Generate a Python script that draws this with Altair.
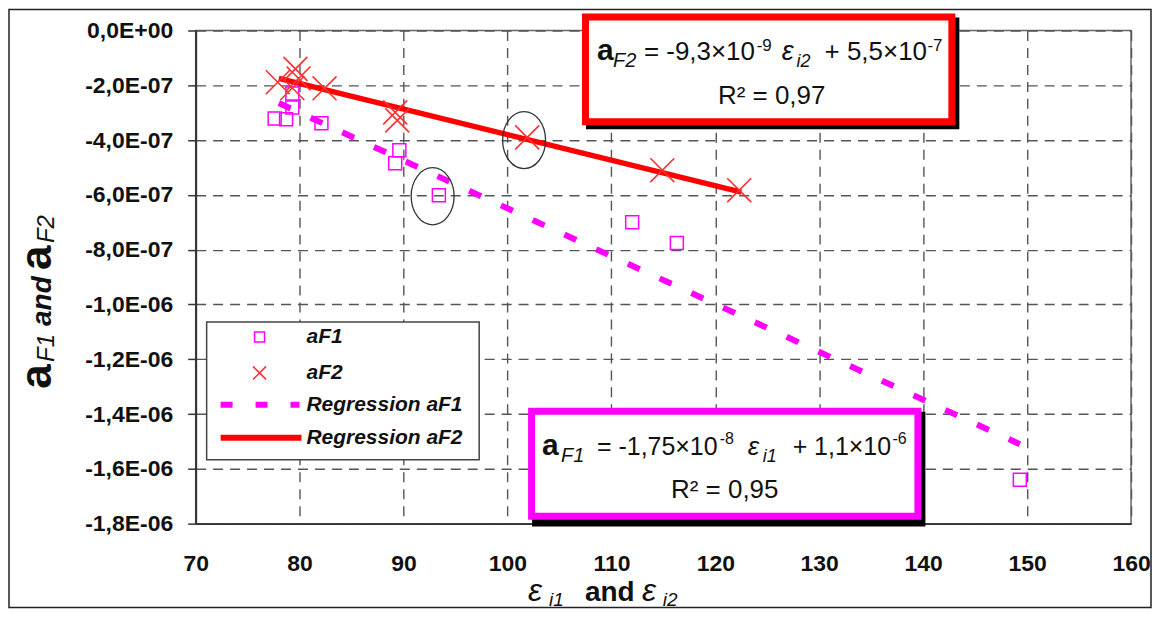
import altair as alt
import pandas as pd

FONT = "Liberation Sans, Arial, sans-serif"

# ---------------- data ----------------
af1_x = [77.6, 78.7, 79.3, 79.3, 82.1, 89.6, 89.2, 93.4, 112.0, 116.3, 149.3]
af1_y = [-3.21e-7, -3.24e-7, -2.81e-7, -2.30e-7, -3.39e-7, -4.37e-7, -4.85e-7,
         -6.01e-7, -7.00e-7, -7.76e-7, -1.64e-6]

af2_x = [77.9, 79.3, 79.6, 79.9, 82.4, 89.2, 89.4, 101.9, 114.9, 122.3]
af2_y = [-1.89e-7, -2.10e-7, -1.40e-7, -1.75e-7, -2.11e-7, -2.99e-7, -3.28e-7,
         -3.90e-7, -5.10e-7, -5.83e-7]

reg1_x = [78.0, 149.3]
reg1_y = [-2.65e-7, -1.51e-6]
reg2_x = [78.0, 122.5]
reg2_y = [-1.75e-7, -5.90e-7]

ellipse_x = [92.8, 101.6]
ellipse_y = [-6.05e-7, -4.00e-7]

x_ticks = [70, 80, 90, 100, 110, 120, 130, 140, 150, 160]
y_ticks = [0.0, -2e-7, -4e-7, -6e-7, -8e-7, -1.0e-6, -1.2e-6, -1.4e-6, -1.6e-6, -1.8e-6]
y_tick_labels = ["0,0E+00", "-2,0E-07", "-4,0E-07", "-6,0E-07", "-8,0E-07",
                 "-1,0E-06", "-1,2E-06", "-1,4E-06", "-1,6E-06", "-1,8E-06"]
legend_labels = ["aF1", "aF2", "Regression aF1", "Regression aF2"]

# ---------------- scales / axes ----------------
W, H = 937, 494
xs = alt.Scale(domain=[70, 160], nice=False, zero=False)
ys = alt.Scale(domain=[-1.8e-6, 0], nice=False, zero=False)

label_arr = "[" + ",".join("'%s'" % s for s in y_tick_labels) + "]"

xaxis = alt.Axis(values=x_ticks, grid=True, ticks=False, tickSize=0, labelPadding=29,
                 labelFont=FONT, labelFontSize=23, labelFontWeight="bold", labelColor="#111",
                 domainColor="#333", domainWidth=2, gridColor="#555", gridDash=[10, 7],
                 gridWidth=1.4, title=None, labelFlush=False)
yaxis = alt.Axis(values=y_ticks, grid=True, ticks=True, tickSize=8, tickColor="#333",
                 tickWidth=1.5, labelPadding=15, labelFont=FONT, labelFontSize=23,
                 labelFontWeight="bold", labelColor="#111", domainColor="#333",
                 domainWidth=2, gridColor="#555", gridDash=[10, 7], gridWidth=1.4,
                 title=None, labelExpr=label_arr + "[round(-datum.value/2e-7)]")

X = lambda: alt.X("x:Q", scale=xs, axis=xaxis)
Y = lambda: alt.Y("y:Q", scale=ys, axis=yaxis)

df1 = pd.DataFrame({"x": af1_x, "y": af1_y})
df2 = pd.DataFrame({"x": af2_x, "y": af2_y})
dr1 = pd.DataFrame({"x": reg1_x, "y": reg1_y})
dr2 = pd.DataFrame({"x": reg2_x, "y": reg2_y})
de = pd.DataFrame({"x": ellipse_x, "y": ellipse_y})

XPATH = "M-1,-1L1,1M-1,1L1,-1"
EPATH = "M1,0A1,1.33,0,1,1,-1,0A1,1.33,0,1,1,1,0"
MAG = "#ff00ff"
RED = "#ff0000"
XRED = "#ff3030"

line1 = alt.Chart(dr1).mark_line(color=MAG, strokeWidth=6, strokeDash=[13, 22],
                                 strokeCap="butt").encode(x=X(), y=Y())
line2 = alt.Chart(dr2).mark_line(color=RED, strokeWidth=5.5).encode(x=X(), y=Y())
pts1 = alt.Chart(df1).mark_point(shape="square", size=169, filled=False, color=MAG,
                                 strokeWidth=1.5, opacity=1).encode(x=X(), y=Y())
pts2 = alt.Chart(df2).mark_point(shape=XPATH, size=576, filled=False, color=XRED,
                                 strokeWidth=1.6, opacity=1).encode(x=X(), y=Y())
ell = alt.Chart(de).mark_point(shape=EPATH, size=1849, filled=False, color="#333",
                               strokeWidth=1.3, opacity=1).encode(x=X(), y=Y())

one = pd.DataFrame({"k": [0]})


def txt(s, x, y, size, weight="normal", style="normal", align="left",
        baseline="alphabetic", angle=0):
    return alt.Chart(one).mark_text(
        text=s, font=FONT, fontSize=size, fontWeight=weight, fontStyle=style,
        align=align, baseline=baseline, angle=angle, color="#111"
    ).encode(x=alt.value(x), y=alt.value(y))


def rect(x, x2, y, y2, **kw):
    return alt.Chart(one).mark_rect(**kw).encode(
        x=alt.value(x), x2=alt.value(x2), y=alt.value(y), y2=alt.value(y2))


layers = [line1, line2, pts1, pts2, ell]

# ---------------- legend ----------------
layers += [
    rect(11, 284, 292, 430, fill="white", stroke="#444", strokeWidth=1.5),
    alt.Chart(one).mark_point(shape="square", size=100, filled=False, color=MAG,
                              strokeWidth=1.5, opacity=1).encode(x=alt.value(64), y=alt.value(307)),
    alt.Chart(one).mark_point(shape=XPATH, size=169, filled=False, color=XRED,
                              strokeWidth=1.5, opacity=1).encode(x=alt.value(64), y=alt.value(343)),
    alt.Chart(one).mark_rule(color=MAG, strokeWidth=6, strokeDash=[12, 23], strokeCap="butt").encode(
        x=alt.value(25), x2=alt.value(104), y=alt.value(375)),
    alt.Chart(one).mark_rule(color=RED, strokeWidth=6).encode(
        x=alt.value(25), x2=alt.value(106), y=alt.value(408)),
]
for lab, yy in zip(legend_labels, [307, 343, 375, 408]):
    layers.append(txt(lab, 111, yy, 21, weight="bold", style="italic", baseline="middle"))

# ---------------- red equation box ----------------
layers += [
    rect(391, 765, -13, 99, fill="black"),
    rect(390.5, 757.5, -13.5, 91.5, fill="white", stroke=RED, strokeWidth=7),
    txt("a", 402, 30, 30, weight="bold"),
    txt("F2", 418, 37, 20, style="italic"),
    txt("= -9,3×10", 449, 30, 26),
    txt("-9", 562, 21, 17),
    txt("ε", 587, 30, 27, style="italic"),
    txt("i2", 602, 37, 18, style="italic"),
    txt("+ 5,5×10", 630, 30, 26),
    txt("-7", 733, 21, 17),
    txt("R² = 0,97", 577, 74, 26, align="center"),
]

# ---------------- magenta equation box ----------------
layers += [
    rect(337, 731, 382, 497, fill="black"),
    rect(336.5, 723.5, 381.5, 486.5, fill="white", stroke=MAG, strokeWidth=7),
    txt("a", 347, 425, 30, weight="bold"),
    txt("F1", 366, 432, 20, style="italic"),
    txt("= -1,75×10", 402, 425, 25),
    txt("-8", 525, 414, 16),
    txt("ε", 553, 425, 26, style="italic"),
    txt("i1", 568, 432, 18, style="italic"),
    txt("+ 1,1×10", 598, 425, 25),
    txt("-6", 698, 414, 16),
    txt("R² = 0,95", 530, 468, 26, align="center"),
]

# ---------------- axis titles ----------------
layers += [
    txt("ε", 333, 572, 32, style="italic"),
    txt("i1", 354, 577, 19, style="italic"),
    txt("and", 390, 572, 28, weight="bold"),
    txt("ε", 447, 572, 32, style="italic"),
    txt("i2", 468, 577, 19, style="italic"),
    txt("a", -145, 359, 44, weight="bold", angle=270),
    txt("F1", -142, 332, 24, style="italic", angle=270),
    txt("and", -145, 296, 28, weight="bold", style="italic", angle=270),
    txt("a", -145, 240, 44, weight="bold", angle=270),
    txt("F2", -142, 213, 24, style="italic", angle=270),
]

# ---------------- outer chart frame ----------------
layers.append(rect(-187, 957, -21, 578, fillOpacity=0, stroke="#222", strokeWidth=1.5))

chart = alt.layer(*layers).properties(
    width=W, height=H,
    padding={"left": 188, "top": 22, "right": 21, "bottom": 86},
    autosize=alt.AutoSizeParams(type="none"),
    background="white",
).configure_view(stroke="#666", strokeWidth=1.5)

chart.save("out.html", embed_options={"renderer": "svg", "actions": False})
